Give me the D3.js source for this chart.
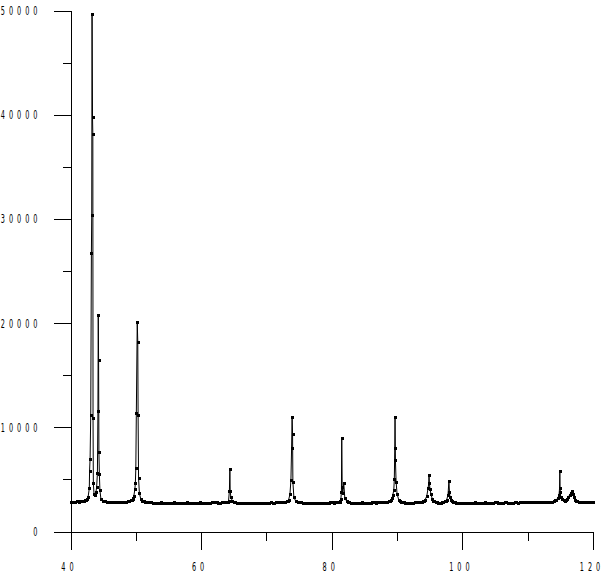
<!DOCTYPE html>
<html>
<head>
<meta charset="utf-8">
<script src="https://cdn.jsdelivr.net/npm/d3@7"></script>
<style>
  html, body { margin: 0; padding: 0; background: #fff; }
  svg { display: block; }
  .lbl { font-family: "DejaVu Sans", sans-serif; font-size: 13px; fill: #000; letter-spacing: 8px; }
</style>
</head>
<body>
<svg id="chart" width="606" height="576"></svg>
<script>
// ---- data: [2-theta (deg), intensity (counts)] ----
const scan = [
  [40.0,2860],[40.25,2840],[40.5,2850],[40.75,2870],[41.0,2880],[41.25,2870],[41.5,2900],[41.75,2920],[42.0,2950],[42.2,3000],
  [42.4,3050],[42.55,3150],[42.7,3340],[42.88,4130],[42.92,5810],[43.0,7000],[43.1,11180],[43.2,26750],[43.25,30400],[43.3,49700],
  [43.37,39800],[43.42,38100],[43.45,10900],[43.5,4620],[43.6,3640],[43.75,3500],[43.9,3800],[44.0,4240],[44.12,5600],[44.2,11560],
  [44.25,20800],[44.3,16500],[44.35,7660],[44.42,5520],[44.5,4000],[44.65,3150],[44.9,2950],[45.1,2920],[45.3,2880],[45.55,2870],
  [45.8,2850],[46.05,2840],[46.3,2830],[46.55,2820],[46.8,2810],[47.05,2800],[47.3,2800],[47.55,2810],[47.8,2820],[48.05,2830],
  [48.3,2850],[48.55,2870],[48.8,2900],[49.0,2940],[49.2,3000],[49.35,3070],[49.5,3150],[49.6,3250],[49.7,3400],[49.85,4050],
  [49.93,4620],[50.0,6060],[50.08,11340],[50.22,20130],[50.3,18220],[50.35,11180],[50.42,5100],[50.55,3670],[50.75,3150],[51.0,2950],
  [51.2,2900],[51.4,2850],[51.65,2820],[51.9,2800],[52.15,2790],[52.4,2790],[52.65,2770],[52.9,2780],[53.15,2760],[53.4,2770],
  [53.65,2780],[53.9,2790],[54.15,2770],[54.4,2760],[54.65,2750],[54.9,2770],[55.15,2760],[55.4,2780],[55.65,2770],[55.9,2790],
  [56.15,2770],[56.4,2760],[56.65,2740],[56.9,2750],[57.15,2760],[57.4,2770],[57.65,2780],[57.9,2790],[58.15,2780],[58.4,2770],
  [58.65,2760],[58.9,2760],[59.15,2770],[59.4,2780],[59.65,2770],[59.9,2790],[60.15,2780],[60.4,2770],[60.65,2760],[60.9,2760],
  [61.15,2770],[61.4,2780],[61.65,2790],[61.9,2800],[62.15,2790],[62.4,2790],[62.65,2780],[62.9,2780],[63.15,2790],[63.4,2800],
  [63.65,2810],[63.9,2830],[64.05,2870],[64.2,2950],[64.33,3890],[64.4,6000],[64.45,3900],[64.55,3300],[64.8,2900],[65.0,2830],
  [65.2,2800],[65.45,2780],[65.7,2770],[65.95,2760],[66.2,2760],[66.45,2770],[66.7,2770],[66.95,2780],[67.2,2780],[67.45,2770],
  [67.7,2760],[67.95,2750],[68.2,2750],[68.45,2760],[68.7,2770],[68.95,2780],[69.2,2780],[69.45,2770],[69.7,2760],[69.95,2770],
  [70.2,2770],[70.45,2780],[70.7,2790],[70.95,2780],[71.2,2780],[71.45,2790],[71.7,2790],[71.95,2800],[72.2,2800],[72.45,2810],
  [72.7,2830],[72.9,2860],[73.1,2900],[73.25,2970],[73.4,3050],[73.6,3570],[73.75,4940],[73.85,7980],[73.93,11020],[74.0,9330],
  [74.05,4780],[74.2,3300],[74.45,2950],[74.6,2880],[74.8,2830],[75.05,2800],[75.3,2790],[75.55,2780],[75.8,2770],[76.05,2760],
  [76.3,2760],[76.55,2770],[76.8,2780],[77.05,2770],[77.3,2760],[77.55,2760],[77.8,2770],[78.05,2780],[78.3,2780],[78.55,2770],
  [78.8,2770],[79.05,2760],[79.3,2760],[79.55,2780],[79.8,2790],[80.05,2790],[80.3,2780],[80.55,2790],[80.8,2800],[81.0,2820],
  [81.2,2850],[81.3,2950],[81.4,3100],[81.48,3820],[81.53,9000],[81.6,4300],[81.7,3700],[81.84,4620],[82.0,3200],[82.3,2900],
  [82.5,2830],[82.7,2800],[82.95,2780],[83.2,2780],[83.45,2770],[83.7,2760],[83.95,2760],[84.2,2770],[84.45,2780],[84.7,2790],
  [84.95,2780],[85.2,2770],[85.45,2760],[85.7,2760],[85.95,2780],[86.2,2790],[86.45,2790],[86.7,2780],[86.95,2790],[87.2,2800],
  [87.45,2800],[87.7,2810],[87.95,2820],[88.2,2830],[88.45,2850],[88.7,2880],[88.9,2950],[89.1,3050],[89.25,3250],[89.35,3500],
  [89.5,3980],[89.58,5010],[89.65,7980],[89.69,10960],[89.75,6860],[89.85,4780],[90.0,3600],[90.25,3050],[90.45,2920],[90.6,2850],
  [90.8,2810],[91.0,2790],[91.25,2780],[91.5,2770],[91.75,2760],[92.0,2760],[92.25,2770],[92.5,2780],[92.75,2790],[93.0,2800],
  [93.25,2810],[93.5,2820],[93.75,2850],[94.0,2900],[94.15,2960],[94.3,3050],[94.55,3400],[94.75,4150],[94.85,4620],[94.89,5390],
  [94.95,4620],[95.05,4050],[95.2,3570],[95.4,3100],[95.55,2950],[95.7,2880],[95.9,2830],[96.1,2800],[96.3,2780],[96.5,2770],
  [96.7,2780],[96.9,2800],[97.1,2830],[97.3,2880],[97.45,2950],[97.6,3050],[97.8,3500],[97.94,4850],[98.02,3820],[98.1,3300],
  [98.3,3000],[98.45,2900],[98.6,2820],[98.8,2790],[99.0,2780],[99.25,2770],[99.5,2760],[99.75,2770],[100.0,2770],[100.25,2760],
  [100.5,2760],[100.75,2770],[101.0,2780],[101.25,2770],[101.5,2770],[101.75,2780],[102.0,2790],[102.25,2780],[102.5,2780],[102.75,2770],
  [103.0,2770],[103.25,2780],[103.5,2790],[103.75,2780],[104.0,2780],[104.25,2770],[104.5,2770],[104.75,2780],[105.0,2790],[105.25,2790],
  [105.5,2780],[105.75,2780],[106.0,2770],[106.25,2780],[106.5,2790],[106.75,2790],[107.0,2780],[107.25,2780],[107.5,2770],[107.75,2780],
  [108.0,2790],[108.25,2790],[108.5,2780],[108.75,2790],[109.0,2790],[109.25,2800],[109.5,2790],[109.75,2790],[110.0,2800],[110.25,2800],
  [110.5,2790],[110.75,2790],[111.0,2790],[111.25,2800],[111.5,2810],[111.75,2800],[112.0,2800],[112.25,2810],[112.5,2820],[112.75,2820],
  [113.0,2830],[113.25,2840],[113.5,2850],[113.75,2870],[114.0,2900],[114.2,2980],[114.35,3050],[114.6,3190],[114.8,3500],[114.88,4150],
  [114.92,5810],[114.96,4150],[115.0,3820],[115.05,3340],[115.3,3150],[115.5,3020],[115.69,2960],[115.85,3020],[116.0,3100],[116.2,3280],
  [116.41,3500],[116.6,3700],[116.76,3920],[116.9,3600],[117.06,3340],[117.3,3050],[117.45,2950],[117.6,2880],[117.8,2850],[118.0,2830],
  [118.25,2820],[118.5,2810],[118.75,2820],[119.0,2830],[119.25,2830],[119.5,2840],[119.75,2840],[120.0,2850]
];
const yMajorTicks = [0, 10000, 20000, 30000, 40000, 50000];
const yMinorTicks = [5000, 15000, 25000, 35000, 45000];
const xMajorTicks = [40, 60, 80, 100, 120];
const xMinorTicks = [50, 70, 90, 110];

const points = scan.map(([t, v]) => ({ t, v }));

const svg = d3.select("#chart");
const x = d3.scaleLinear().domain([40, 120]).range([70.5, 593]);
const y = d3.scaleLinear().domain([0, 50000]).range([531.5, 10.5]);

// y axis
const gy = svg.append("g").attr("transform", "translate(70.5,0)").attr("shape-rendering", "crispEdges");
gy.call(d3.axisLeft(y).tickValues(yMajorTicks).tickSize(17).tickSizeOuter(0).tickFormat(""));
gy.append("g").call(d3.axisLeft(y).tickValues(yMinorTicks).tickSize(8).tickSizeOuter(0).tickFormat(""))
  .select(".domain").remove();
gy.selectAll("line,path").attr("stroke", "#000");

// x axis
const gx = svg.append("g").attr("transform", "translate(0,531.5)").attr("shape-rendering", "crispEdges");
gx.call(d3.axisBottom(x).tickValues(xMajorTicks).tickSize(18).tickSizeOuter(0).tickFormat(""));
gx.append("g").call(d3.axisBottom(x).tickValues(xMinorTicks).tickSize(9).tickSizeOuter(0).tickFormat(""))
  .select(".domain").remove();
gx.selectAll("line,path").attr("stroke", "#000");

// y labels
svg.append("g").selectAll("text").data(yMajorTicks).join("text")
  .attr("class", "lbl")
  .attr("text-anchor", "end")
  .attr("transform", d => `translate(41.5,${y(d) + 4.5}) scale(0.5,1)`)
  .text(d => String(d));

// x labels
svg.append("g").selectAll("text").data(xMajorTicks).join("text")
  .attr("class", "lbl")
  .attr("text-anchor", "middle")
  .attr("transform", d => `translate(${x(d) - 1},571) scale(0.5,1)`)
  .text(d => String(d));

// data line
const line = d3.line().x(d => x(d.t)).y(d => y(d.v));
svg.append("path").datum(points)
  .attr("d", line)
  .attr("fill", "none")
  .attr("stroke", "#000")
  .attr("stroke-width", 1);

// markers
svg.append("g").attr("shape-rendering", "crispEdges")
  .selectAll("rect").data(points).join("rect")
  .attr("x", d => Math.round(x(d.t)) - 1)
  .attr("y", d => Math.round(y(d.v)) - 1)
  .attr("width", 3).attr("height", 3)
  .attr("fill", "#000");
</script>
</body>
</html>
